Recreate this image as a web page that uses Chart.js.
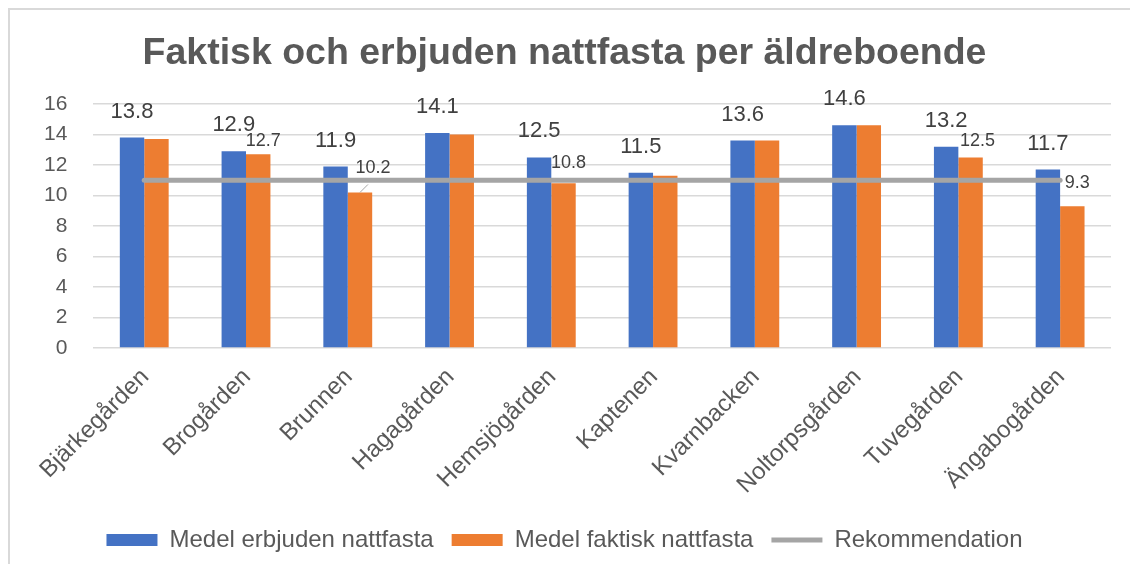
<!DOCTYPE html>
<html>
<head>
<meta charset="utf-8">
<script src="https://cdn.jsdelivr.net/npm/chart.js@4/dist/chart.umd.min.js"></script>
<style>
  body { margin: 0; background: #fff; overflow: hidden; }
  #wrap {
    position: absolute;
    left: 8px;
    top: 8px;
    width: 1122px;
    height: 556px;
    border-left: 2px solid #d9d9d9;
    border-top: 2px solid #d9d9d9;
  }
</style>
</head>
<body>
<div id="wrap"><canvas id="myChart"></canvas></div>
<script>
'use strict';

let boenden = ['Bjärkegården', 'Brogården', 'Brunnen', 'Hagagården', 'Hemsjögården',
  'Kaptenen', 'Kvarnbacken', 'Noltorpsgården', 'Tuvegården', 'Ängabogården'];
let erbjuden = [13.8, 12.9, 11.9, 14.1, 12.5, 11.5, 13.6, 14.6, 13.2, 11.7];
let faktisk = [13.7, 12.7, 10.2, 14.0, 10.8, 11.3, 13.6, 14.6, 12.5, 9.3];
let rekommendation = [11, 11, 11, 11, 11, 11, 11, 11, 11, 11];
// which orange values got a label in the original
let visaFaktisk = [false, true, true, false, true, false, false, false, true, true];
let yTicks = [0, 2, 4, 6, 8, 10, 12, 14, 16];

// small nudges for the orange labels (Excel moved a few of them)
let faktiskShift = {
  2: { dx: 8, dy: -11, leader: true },
  4: { dx: 0, dy: -7 },
  8: { dx: 2, dy: -3 },
  9: { dx: 0, dy: -10 }
};

let grey = '#595959';
let fontFam = '"Liberation Sans", Arial, sans-serif';

let valueLabels = {
  id: 'valueLabels',
  afterDatasetsDraw(chart) {
    let ctx = chart.ctx;
    ctx.save();
    ctx.textAlign = 'center';
    ctx.textBaseline = 'middle';

    let blue = chart.getDatasetMeta(0);
    ctx.font = '22px ' + fontFam;
    ctx.fillStyle = '#404040';
    blue.data.forEach(function (bar, i) {
      ctx.fillText(erbjuden[i].toFixed(1), bar.x, bar.y - 26);
    });

    let orange = chart.getDatasetMeta(1);
    ctx.font = '18px ' + fontFam;
    orange.data.forEach(function (bar, i) {
      if (!visaFaktisk[i]) {
        return;
      }
      let s = faktiskShift[i] || { dx: 0, dy: 0 };
      let x = bar.x + 5 + s.dx;
      let y = bar.y - 13 + s.dy;
      if (s.leader) {
        ctx.strokeStyle = '#a6a6a6';
        ctx.lineWidth = 1;
        ctx.beginPath();
        ctx.moveTo(bar.x, bar.y);
        ctx.lineTo(bar.x + 8, bar.y - 8);
        ctx.stroke();
      }
      ctx.fillText(faktisk[i].toFixed(1), x, y);
    });
    ctx.restore();
  }
};

let ctx = document.getElementById('myChart').getContext('2d');
let myChart = new Chart(ctx, {
  type: 'bar',
  data: {
    labels: boenden,
    datasets: [{
      label: 'Medel erbjuden nattfasta',
      data: erbjuden,
      backgroundColor: '#4472c4',
      pointStyle: 'rect',
      categoryPercentage: 0.48,
      barPercentage: 1.0
    },
    {
      label: 'Medel faktisk nattfasta',
      data: faktisk,
      backgroundColor: '#ed7d31',
      pointStyle: 'rect',
      categoryPercentage: 0.48,
      barPercentage: 1.0
    },
    {
      type: 'line',
      label: 'Rekommendation',
      data: rekommendation,
      borderColor: '#a5a5a5',
      backgroundColor: '#a5a5a5',
      borderWidth: 5,
      borderCapStyle: 'round',
      pointRadius: 0,
      pointStyle: 'line',
      order: -1
    }]
  },
  options: {
    responsive: true,
    maintainAspectRatio: false,
    animation: false,
    layout: {
      padding: { top: 21, right: 21, bottom: 4, left: 8 }
    },
    plugins: {
      title: {
        display: true,
        text: 'Faktisk och erbjuden nattfasta per äldreboende',
        color: grey,
        font: { family: fontFam, size: 37.5, weight: 'bold' },
        padding: { top: 0, bottom: 28 }
      },
      legend: {
        position: 'bottom',
        labels: {
          color: grey,
          font: { family: fontFam, size: 24 },
          usePointStyle: true,
          pointStyleWidth: 51,
          boxHeight: 12,
          padding: 18,
          sort: function (a, b) { return a.datasetIndex - b.datasetIndex; }
        }
      },
      tooltip: { enabled: false }
    },
    scales: {
      x: {
        grid: { display: false },
        border: { display: false },
        afterFit: function (axis) {
          axis.height = 162;
        },
        ticks: {
          color: grey,
          font: { family: fontFam, size: 24 },
          minRotation: 45,
          maxRotation: 45,
          labelOffset: 1,
          padding: 7,
          autoSkip: false
        }
      },
      y: {
        min: 0,
        max: 16,
        afterBuildTicks: function (axis) {
          axis.ticks = yTicks.map(function (v) { return { value: v }; });
        },
        grid: { color: '#d9d9d9', lineWidth: 1.5, drawTicks: false },
        border: { display: false },
        ticks: {
          color: grey,
          font: { family: fontFam, size: 21 },
          padding: 26
        }
      }
    }
  },
  plugins: [valueLabels]
});
</script>
</body>
</html>
